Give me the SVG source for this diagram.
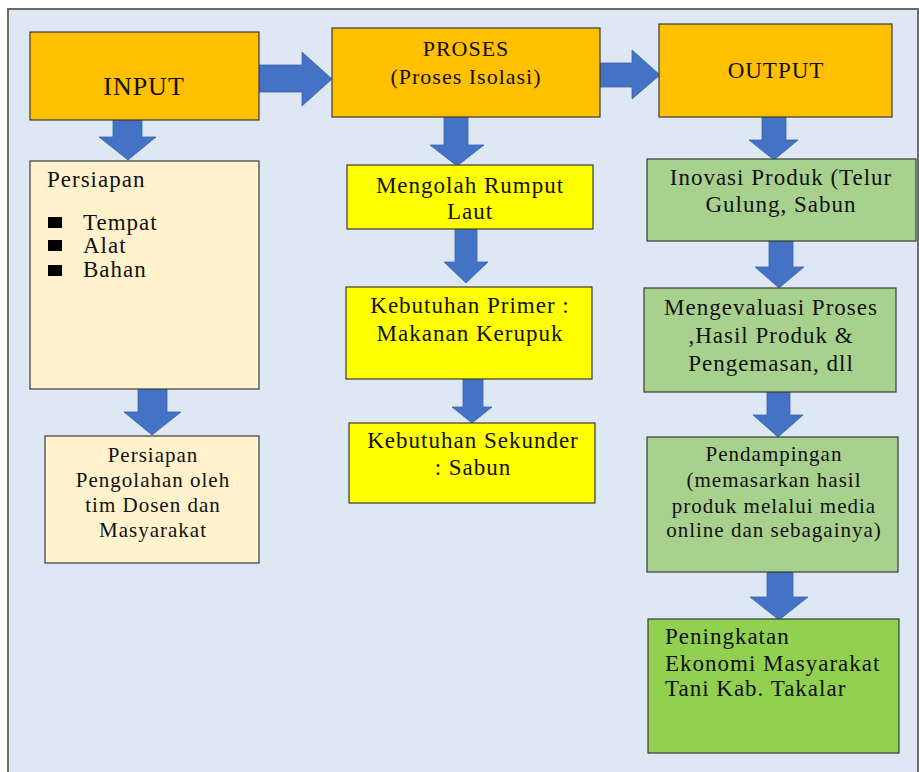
<svg xmlns="http://www.w3.org/2000/svg" width="919" height="772" viewBox="0 0 919 772">
<style>
.box{stroke:#3a3a3a;stroke-width:1.2}
.orange{fill:#ffc000}
.cream{fill:#fff2cc}
.yellow{fill:#ffff00}
.lgreen{fill:#a9d18e}
.green{fill:#92d050}
.arrow{fill:#4472c4;stroke:#3b64ad;stroke-width:0.8}
text{font-family:"Liberation Serif","Times New Roman",serif;fill:#111;letter-spacing:1px}
.t{font-size:23px}
.s{font-size:21px}
.c{text-anchor:middle}
</style>
<rect x="8" y="9" width="910" height="775" fill="#dee8f4" stroke="#6b6b6b" stroke-width="2"/>

<g id="connectors">
<polygon class="arrow" points="259,65 302,65 302,52 332,79 302,106 302,92 259,92"/>
<polygon class="arrow" points="600,63 632,63 632,50 660,75 632,99 632,87 600,87"/>
<polygon class="arrow" points="113,120 142,120 142,137 156,137 128,160 99,137 113,137"/>
<polygon class="arrow" points="138,389 167,389 167,412 181,412 152,435 124,412 138,412"/>
<polygon class="arrow" points="444,117 468,117 468,145 484,145 457,166 430,145 444,145"/>
<polygon class="arrow" points="455,229 477,229 477,262 488,262 466,283 444,262 455,262"/>
<polygon class="arrow" points="463,379 483,379 483,407 492,407 472,423 452,407 463,407"/>
<polygon class="arrow" points="762,117 786,117 786,140 798,140 774,160 749,140 762,140"/>
<polygon class="arrow" points="769,241 793,241 793,267 804,267 779,288 755,267 769,267"/>
<polygon class="arrow" points="767,392 790,392 790,415 803,415 778,437 753,415 767,415"/>
<polygon class="arrow" points="767,572 793,572 793,597 808,597 779,620 750,597 767,597"/>
</g>

<g id="input">
<rect class="box orange" x="30" y="32" width="229" height="88"/>
<text x="144" y="95" class="c" font-size="26">INPUT</text>
</g>

<g id="proses">
<rect class="box orange" x="332" y="28" width="268" height="89"/>
<text x="466" y="56" class="c" font-size="22">PROSES</text>
<text x="466" y="84" class="c" font-size="22">(Proses Isolasi)</text>
</g>

<g id="output">
<rect class="box orange" x="659" y="24" width="233" height="93"/>
<text x="776" y="78" class="c" font-size="23">OUTPUT</text>
</g>

<g id="persiapan">
<rect class="box cream" x="30" y="161" width="229" height="228"/>
<text x="47" y="187" class="t">Persiapan</text>
<rect x="48" y="217" width="14" height="11" fill="#000"/>
<rect x="48" y="240" width="14" height="11" fill="#000"/>
<rect x="48" y="265" width="14" height="11" fill="#000"/>
<text x="83" y="230" class="t">Tempat</text>
<text x="83" y="253" class="t">Alat</text>
<text x="83" y="277" class="t">Bahan</text>
</g>

<g id="persiapan-pengolahan">
<rect class="box cream" x="45" y="436" width="214" height="127"/>
<text x="153" y="462" class="s c">Persiapan</text>
<text x="153" y="487" class="s c">Pengolahan oleh</text>
<text x="153" y="512" class="s c">tim Dosen dan</text>
<text x="153" y="537" class="s c">Masyarakat</text>
</g>

<g id="mengolah">
<rect class="box yellow" x="347" y="165" width="246" height="64"/>
<text x="470" y="193" class="t c">Mengolah Rumput</text>
<text x="470" y="219" class="t c">Laut</text>
</g>

<g id="primer">
<rect class="box yellow" x="346" y="287" width="246" height="92"/>
<text x="470" y="313" class="t c">Kebutuhan Primer :</text>
<text x="470" y="341" class="t c">Makanan Kerupuk</text>
</g>

<g id="sekunder">
<rect class="box yellow" x="349" y="423" width="246" height="80"/>
<text x="473" y="448" class="t c">Kebutuhan Sekunder</text>
<text x="473" y="475" class="t c">: Sabun</text>
</g>

<g id="inovasi">
<rect class="box lgreen" x="647" y="159" width="269" height="82"/>
<text x="781" y="185" class="t c">Inovasi Produk (Telur</text>
<text x="781" y="212" class="t c">Gulung, Sabun</text>
</g>

<g id="evaluasi">
<rect class="box lgreen" x="644" y="288" width="252" height="104"/>
<text x="771" y="315" class="t c">Mengevaluasi Proses</text>
<text x="771" y="343" class="t c">,Hasil Produk &amp;</text>
<text x="771" y="371" class="t c">Pengemasan, dll</text>
</g>

<g id="pendampingan">
<rect class="box lgreen" x="647" y="437" width="251" height="135"/>
<text x="774" y="461" class="s c">Pendampingan</text>
<text x="774" y="487" class="s c">(memasarkan hasil</text>
<text x="774" y="513" class="s c">produk melalui media</text>
<text x="774" y="537" class="s c">online dan sebagainya)</text>
</g>

<g id="peningkatan">
<rect class="box green" x="648" y="619" width="251" height="134"/>
<text x="665" y="644" class="t">Peningkatan</text>
<text x="665" y="671" class="t">Ekonomi Masyarakat</text>
<text x="665" y="696" class="t">Tani Kab. Takalar</text>
</g>
</svg>
